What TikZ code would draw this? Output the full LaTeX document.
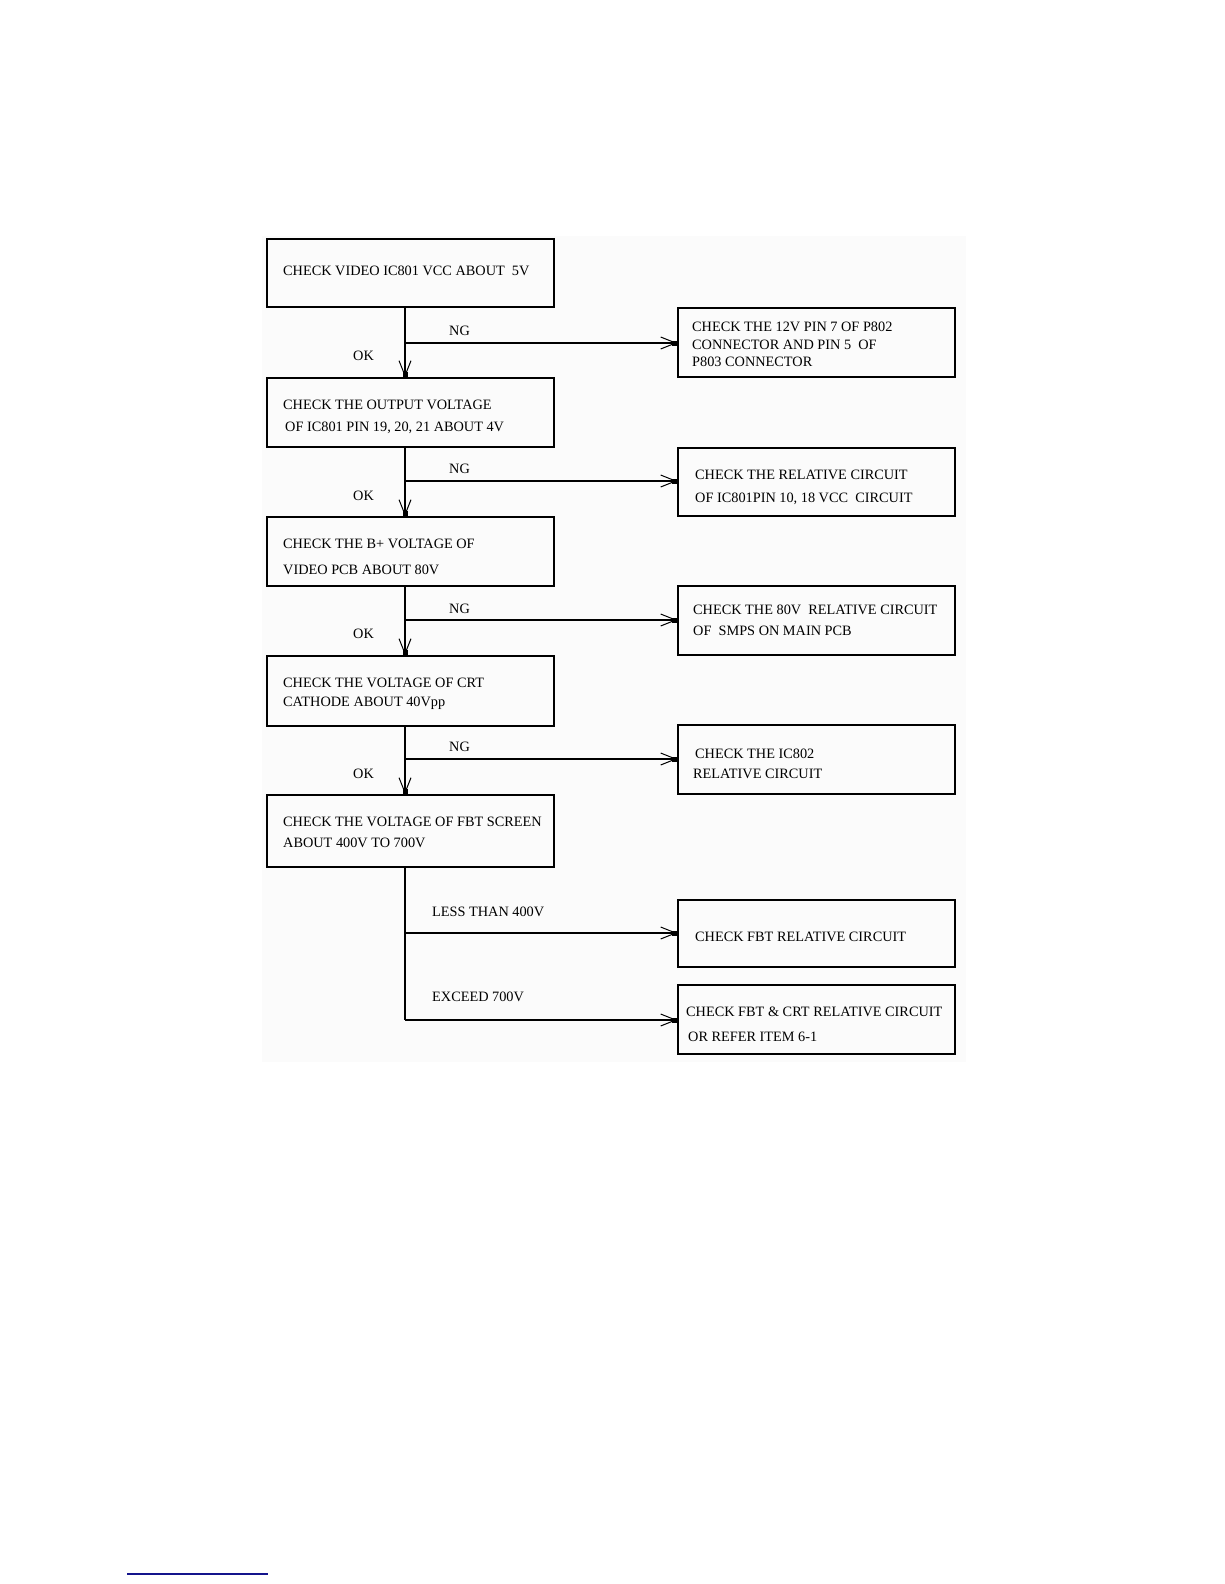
\documentclass[tikz,border=0pt]{standalone}
\usepackage{fontspec}
\setmainfont{Liberation Serif}
\usetikzlibrary{arrows.meta,calc}
\definecolor{bgpanel}{RGB}{251,251,251}
\definecolor{footblue}{RGB}{20,20,140}
\begin{document}
\begin{tikzpicture}[x=1pt,y=-1pt,
  box/.style={draw,line width=1.6pt,minimum width=287pt,inner sep=0pt,anchor=north west},
  rbox/.style={draw,line width=1.6pt,minimum width=277pt,inner sep=0pt,anchor=north west},
  txt/.style={anchor=base west,inner sep=0pt,font=\fontsize{14.3}{17}\selectfont},
  lbl/.style={anchor=base west,inner sep=0pt,font=\fontsize{14.3}{17}\selectfont},
  conn/.style={line width=1.2pt,-{Straight Barb[length=15pt,width=12pt,line width=1pt]}},
  seg/.style={line width=1.2pt},
  tipsq/.style={fill=black}
]
\useasboundingbox (0,0) rectangle (1224,1584);
\fill[bgpanel] (262,236) rectangle (966,1062);

% left column boxes
\node[box,minimum height=68pt] (b1) at (266,238) {};
\node[box,minimum height=69pt] (b2) at (266,377) {};
\node[box,minimum height=69pt] (b3) at (266,516) {};
\node[box,minimum height=70pt] (b4) at (266,655) {};
\node[box,minimum height=72pt] (b5) at (266,794) {};

% right column boxes
\node[rbox,minimum height=69pt] (r1) at (677,307) {};
\node[rbox,minimum height=68pt] (r2) at (677,447) {};
\node[rbox,minimum height=69pt] (r3) at (677,585) {};
\node[rbox,minimum height=69pt] (r4) at (677,724) {};
\node[rbox,minimum height=67pt] (r5) at (677,899) {};
\node[rbox,minimum height=69pt] (r6) at (677,984) {};

% texts
\node[txt] (t1) at (283,275) {CHECK VIDEO IC801 VCC ABOUT \ 5V};
\node[txt] (t2a) at (283,409) {CHECK THE OUTPUT VOLTAGE};
\node[txt] (t2b) at (285,431) {OF IC801 PIN 19, 20, 21 ABOUT 4V};
\node[txt] (t3a) at (283,548) {CHECK THE B+ VOLTAGE OF};
\node[txt] (t3b) at (283,574) {VIDEO PCB ABOUT 80V};
\node[txt] (t4a) at (283,687) {CHECK THE VOLTAGE OF CRT};
\node[txt] (t4b) at (283,706) {CATHODE ABOUT 40Vpp};
\node[txt] (t5a) at (283,826) {CHECK THE VOLTAGE OF FBT SCREEN};
\node[txt] (t5b) at (283,847) {ABOUT 400V TO 700V};

\node[txt] (s1a) at (692,331) {CHECK THE 12V PIN 7 OF P802};
\node[txt] (s1b) at (692,349) {CONNECTOR AND PIN 5 \ OF};
\node[txt] (s1c) at (692,366) {P803 CONNECTOR};
\node[txt] (s2a) at (695,479) {CHECK THE RELATIVE CIRCUIT};
\node[txt] (s2b) at (695,502) {OF IC801PIN 10, 18 VCC \ CIRCUIT};
\node[txt] (s3a) at (693,614) {CHECK THE 80V \ RELATIVE CIRCUIT};
\node[txt] (s3b) at (693,635) {OF \ SMPS ON MAIN PCB};
\node[txt] (s4a) at (695,758) {CHECK THE IC802};
\node[txt] (s4b) at (693,778) {RELATIVE CIRCUIT};
\node[txt] (s5) at (695,941) {CHECK FBT RELATIVE CIRCUIT};
\node[txt] (s6a) at (686,1016) {CHECK FBT \& CRT RELATIVE CIRCUIT};
\node[txt] (s6b) at (688,1041) {OR REFER ITEM 6-1};

% labels
\node[lbl] (ng1) at (449,335) {NG};
\node[lbl] (ok1) at (353,360) {OK};
\node[lbl] (ng2) at (449,473) {NG};
\node[lbl] (ok2) at (353,500) {OK};
\node[lbl] (ng3) at (449,613) {NG};
\node[lbl] (ok3) at (353,638) {OK};
\node[lbl] (ng4) at (449,751) {NG};
\node[lbl] (ok4) at (353,778) {OK};
\node[lbl] (lt) at (432,916) {LESS THAN 400V};
\node[lbl] (ex) at (432,1001) {EXCEED 700V};

% branch points
\coordinate (p1) at (405,343);
\coordinate (p2) at (405,481);
\coordinate (p3) at (405,620);
\coordinate (p4) at (405,759);
\coordinate (p5) at (405,933);
\coordinate (p6) at (405,1020);

% vertical OK connectors
\draw[conn] (b1.south -| p1) -- (b2.north -| p1);
\draw[conn] (b2.south -| p1) -- (b3.north -| p1);
\draw[conn] (b3.south -| p1) -- (b4.north -| p1);
\draw[conn] (b4.south -| p1) -- (b5.north -| p1);
\foreach \b in {b2,b3,b4,b5}{\fill[tipsq] ($(\b.north -| p1)+(-2.5,-5)$) rectangle ++(5,5);}

% NG connectors
\draw[conn] (p1) -- (p1 -| r1.west);
\draw[conn] (p2) -- (p2 -| r2.west);
\draw[conn] (p3) -- (p3 -| r3.west);
\draw[conn] (p4) -- (p4 -| r4.west);

% FBT branches
\draw[seg] (b5.south -| p5) -- (p6);
\draw[conn,line width=1.7pt] (p5) -- (p5 -| r5.west);
\draw[conn] (p6) -- (p6 -| r6.west);

\foreach \p/\r in {p1/r1,p2/r2,p3/r3,p4/r4,p5/r5,p6/r6}{\fill[tipsq] ($(\p -| \r.west)+(-5,-2.5)$) rectangle ++(5,5);}

% footer line
\draw[footblue,line width=1.2pt] (127,1574) -- (268,1574);
\end{tikzpicture}
\end{document}
